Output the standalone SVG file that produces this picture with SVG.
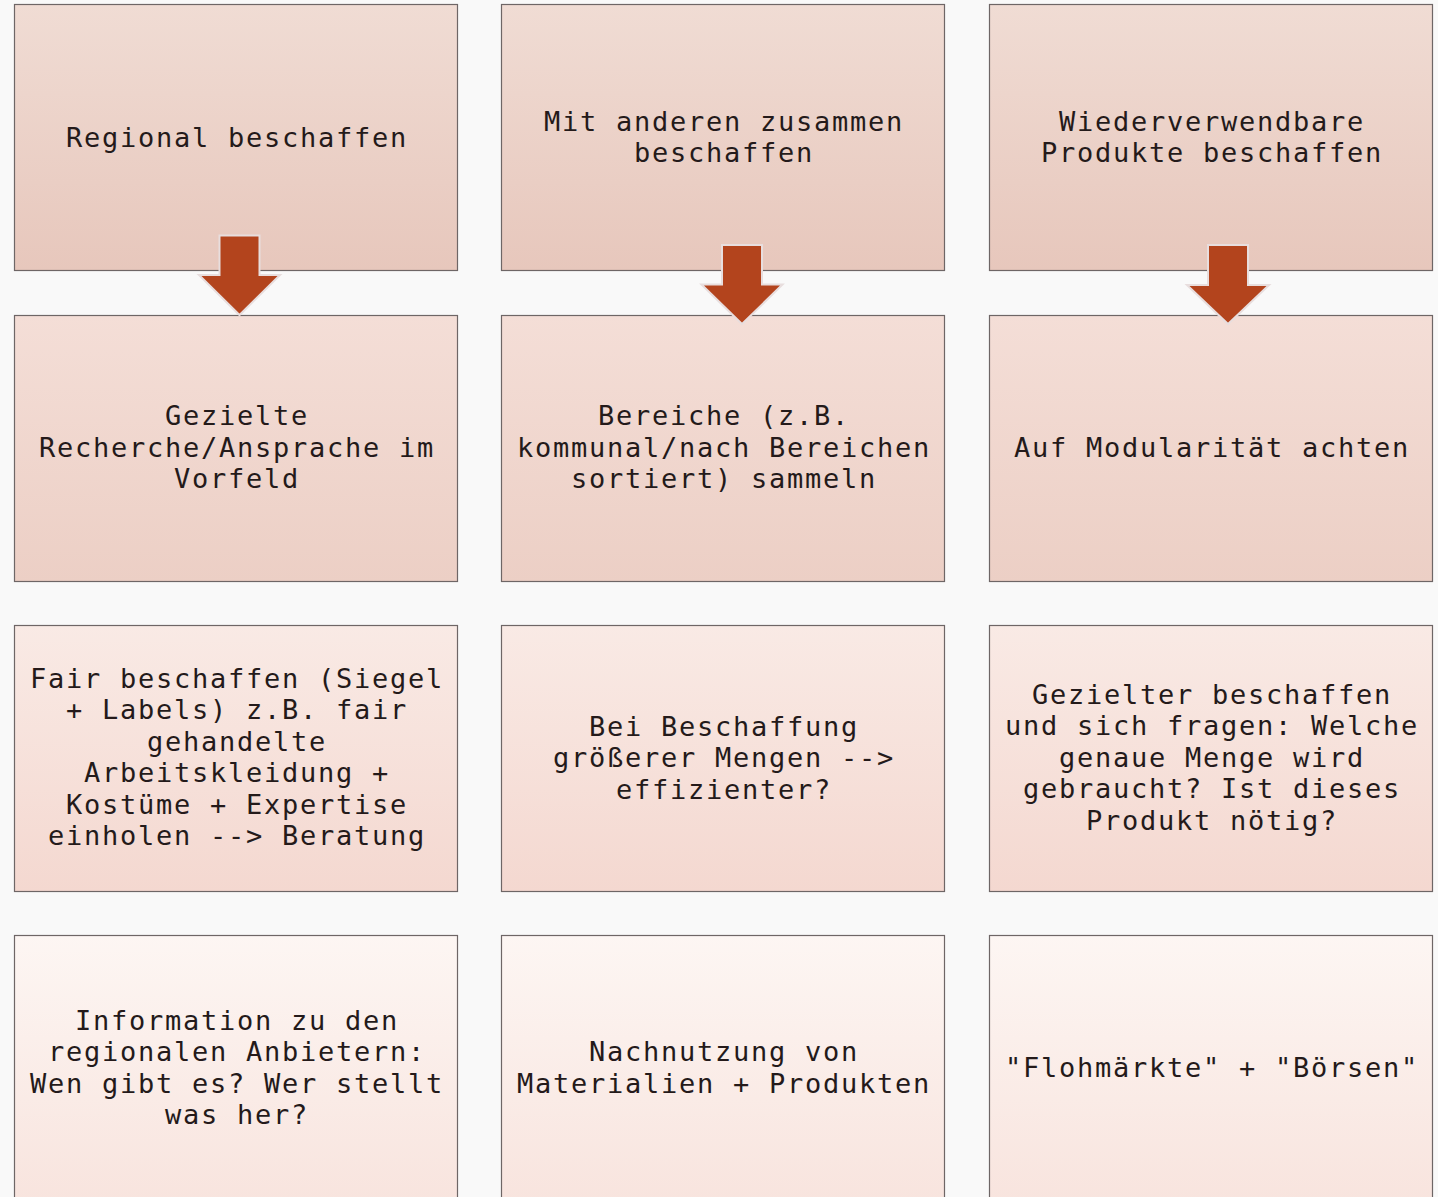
<svg xmlns="http://www.w3.org/2000/svg" width="1438" height="1197" viewBox="0 0 1438 1197">
<defs>
<linearGradient id="g1" x1="0" y1="0" x2="0" y2="1"><stop offset="0" stop-color="#f0dcd4"/><stop offset="1" stop-color="#e7c7bc"/></linearGradient>
<linearGradient id="g2" x1="0" y1="0" x2="0" y2="1"><stop offset="0" stop-color="#f4ded7"/><stop offset="1" stop-color="#eccfc5"/></linearGradient>
<linearGradient id="g3" x1="0" y1="0" x2="0" y2="1"><stop offset="0" stop-color="#f9eae5"/><stop offset="1" stop-color="#f4d8d0"/></linearGradient>
<linearGradient id="g4" x1="0" y1="0" x2="0" y2="1"><stop offset="0" stop-color="#fdf6f3"/><stop offset="1" stop-color="#f8e4de"/></linearGradient>
<style>
.box{stroke:#6e6666;stroke-width:1.2}
.r1{fill:url(#g1)}.r2{fill:url(#g2)}.r3{fill:url(#g3)}.r4{fill:url(#g4)}
text{font-family:"DejaVu Sans Mono","Liberation Mono",monospace;font-size:27px;letter-spacing:1.75px;fill:#241a1a;text-anchor:middle}
.arrow{fill:#b3441d;stroke:#e8dede;stroke-width:2;stroke-linejoin:miter}
</style>
</defs>
<rect width="1438" height="1197" fill="#f9f9f9"/>
<g id="n11"><rect class="box r1" x="14.5" y="4.5" width="443" height="266"/><text x="237" y="146.5">Regional beschaffen</text></g>
<g id="n12"><rect class="box r1" x="501.5" y="4.5" width="443" height="266"/><text x="724" y="130.5">Mit anderen zusammen</text><text x="724" y="162">beschaffen</text></g>
<g id="n13"><rect class="box r1" x="989.5" y="4.5" width="443" height="266"/><text x="1212" y="130.5">Wiederverwendbare</text><text x="1212" y="162">Produkte beschaffen</text></g>
<g id="n21"><rect class="box r2" x="14.5" y="315.5" width="443" height="266"/><text x="237" y="425">Gezielte</text><text x="237" y="456.5">Recherche/Ansprache im</text><text x="237" y="488">Vorfeld</text></g>
<g id="n22"><rect class="box r2" x="501.5" y="315.5" width="443" height="266"/><text x="724" y="425">Bereiche (z.B.</text><text x="724" y="456.5">kommunal/nach Bereichen</text><text x="724" y="488">sortiert) sammeln</text></g>
<g id="n23"><rect class="box r2" x="989.5" y="315.5" width="443" height="266"/><text x="1212" y="456.5">Auf Modularität achten</text></g>
<g id="n31"><rect class="box r3" x="14.5" y="625.5" width="443" height="266"/><text x="237" y="687.5">Fair beschaffen (Siegel</text><text x="237" y="719">+ Labels) z.B. fair</text><text x="237" y="750.5">gehandelte</text><text x="237" y="782">Arbeitskleidung +</text><text x="237" y="813.5">Kostüme + Expertise</text><text x="237" y="845">einholen --&gt; Beratung</text></g>
<g id="n32"><rect class="box r3" x="501.5" y="625.5" width="443" height="266"/><text x="724" y="735.5">Bei Beschaffung</text><text x="724" y="767">größerer Mengen --&gt;</text><text x="724" y="798.5">effizienter?</text></g>
<g id="n33"><rect class="box r3" x="989.5" y="625.5" width="443" height="266"/><text x="1212" y="703.5">Gezielter beschaffen</text><text x="1212" y="735">und sich fragen: Welche</text><text x="1212" y="766.5">genaue Menge wird</text><text x="1212" y="798">gebraucht? Ist dieses</text><text x="1212" y="829.5">Produkt nötig?</text></g>
<g id="n41"><rect class="box r4" x="14.5" y="935.5" width="443" height="266"/><text x="237" y="1029.5">Information zu den</text><text x="237" y="1061">regionalen Anbietern:</text><text x="237" y="1092.5">Wen gibt es? Wer stellt</text><text x="237" y="1124">was her?</text></g>
<g id="n42"><rect class="box r4" x="501.5" y="935.5" width="443" height="266"/><text x="724" y="1061">Nachnutzung von</text><text x="724" y="1092.5">Materialien + Produkten</text></g>
<g id="n43"><rect class="box r4" x="989.5" y="935.5" width="443" height="266"/><text x="1212" y="1077">"Flohmärkte" + "Börsen"</text></g>
<g id="connectors">
<polygon class="arrow" points="219.5,235.5 259.5,235.5 259.5,275 280,275 239.5,315 199,275 219.5,275"/>
<polygon class="arrow" points="722,245 762,245 762,284.5 782.5,284.5 742,324 701.5,284.5 722,284.5"/>
<polygon class="arrow" points="1208,245 1248,245 1248,285 1269,285 1228,324 1187,285 1208,285"/>
</g>
</svg>
